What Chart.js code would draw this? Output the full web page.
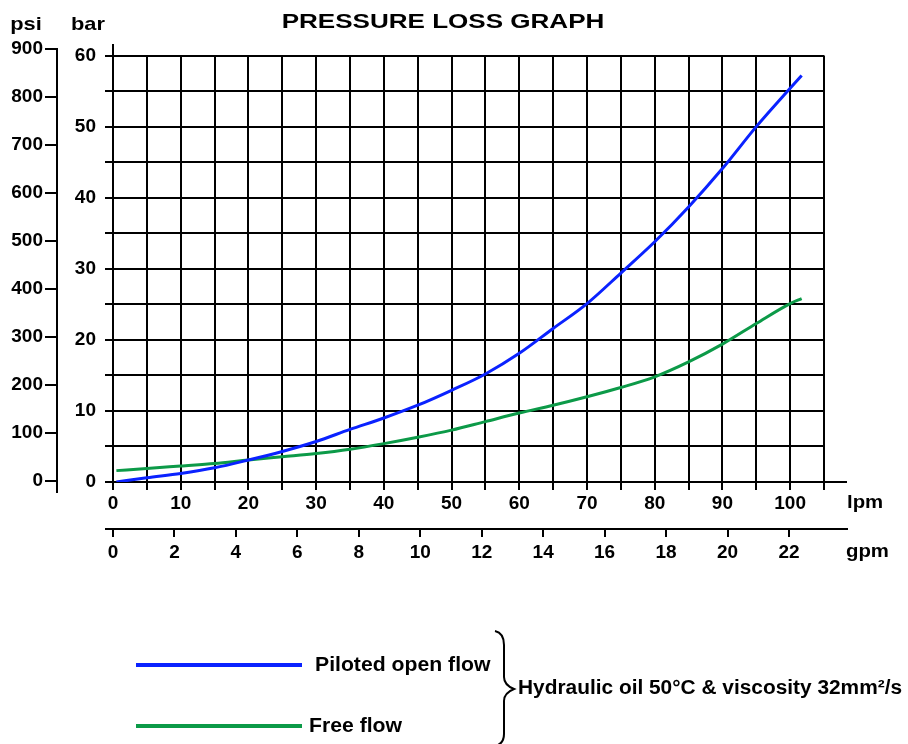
<!DOCTYPE html>
<html>
<head>
<meta charset="utf-8">
<title>Pressure Loss Graph</title>
<script src="https://cdn.jsdelivr.net/npm/chart.js"></script>
<style>
  html, body { margin: 0; padding: 0; background: #fff; }
  canvas { display: block; }
</style>
</head>
<body>
<canvas id="myChart" width="908" height="744"></canvas>
<script>
// flow (lpm) and pressure loss (bar)
const lpm = [0.5, 5, 10, 15, 20, 25, 30, 35, 40, 45, 50, 55, 60, 65, 70, 75, 80, 85, 90, 95, 100, 101.7];
const pilotedOpen = [0, 0.6, 1.2, 2.0, 3.1, 4.3, 5.7, 7.4, 9.0, 10.8, 12.9, 15.2, 18.1, 21.6, 25.1, 29.4, 33.8, 38.7, 44.1, 50.0, 55.4, 57.2];
const freeFlow = [1.6, 1.9, 2.25, 2.6, 3.1, 3.55, 4.0, 4.6, 5.4, 6.3, 7.3, 8.5, 9.7, 10.8, 12.0, 13.3, 14.8, 16.9, 19.4, 22.3, 25.1, 25.8];

// axis ticks
const lpmTicks = [0, 5, 10, 15, 20, 25, 30, 35, 40, 45, 50, 55, 60, 65, 70, 75, 80, 85, 90, 95, 100, 105];
const lpmLabels = [0, 10, 20, 30, 40, 50, 60, 70, 80, 90, 100];
const gpmTicks = [0, 2, 4, 6, 8, 10, 12, 14, 16, 18, 20, 22];
const barTicks = [0, 5, 10, 15, 20, 25, 30, 35, 40, 45, 50, 55, 60];
const barLabels = [0, 10, 20, 30, 40, 50, 60];
const psiTicks = [0, 100, 200, 300, 400, 500, 600, 700, 800, 900];

const seriesNames = ['Piloted open flow', 'Free flow'];
const note = 'Hydraulic oil 50\u00B0C & viscosity 32mm\u00B2/s';

const FONT = "'Liberation Sans', Arial, sans-serif";
Chart.defaults.font.family = FONT;
Chart.defaults.font.weight = 'bold';
Chart.defaults.font.size = 19;
Chart.defaults.color = '#000';

const fixTicks = values => scale => { scale.ticks = values.map(v => ({ value: v })); };

// the original lettering is a bit wider than Arial, so stretch it sideways
function wideText(ctx, text, x, y, size, sx, align) {
    ctx.save();
    ctx.font = 'bold ' + size + 'px ' + FONT;
    ctx.textAlign = align;
    ctx.textBaseline = 'middle';
    ctx.fillStyle = '#000';
    ctx.translate(x, y);
    ctx.scale(sx, 1);
    ctx.fillText(text, 0, 0);
    ctx.restore();
}

// grid columns, axis extensions, unit labels, title and legend
const decor = {
    id: 'decor',
    beforeDatasetsDraw(chart) {
        const { ctx, chartArea: a, scales: { x, bar } } = chart;
        const top = bar.getPixelForValue(barTicks[barTicks.length - 1]);
        ctx.save();
        ctx.strokeStyle = '#000';
        ctx.lineWidth = 2;
        ctx.beginPath();
        lpmTicks.forEach(v => {
            if (v === 0) return;
            const px = Math.round(x.getPixelForValue(v));
            ctx.moveTo(px, top);
            ctx.lineTo(px, a.bottom);
        });
        ctx.stroke();
        ctx.restore();
    },
    afterDraw(chart) {
        const { ctx, chartArea: a, scales: { x, gpm, psi } } = chart;
        ctx.save();
        ctx.strokeStyle = '#000';
        ctx.lineWidth = 2;
        ctx.beginPath();
        // psi axis line
        ctx.moveTo(psi.right - 1, psi.getPixelForValue(900));
        ctx.lineTo(psi.right - 1, a.bottom + 11);
        // lpm axis runs on past the grid
        ctx.moveTo(a.right, Math.round(a.bottom));
        ctx.lineTo(a.right + 23, Math.round(a.bottom));
        // gpm axis line
        ctx.moveTo(a.left - 8, Math.round(gpm.top));
        ctx.lineTo(a.right + 24, Math.round(gpm.top));
        ctx.stroke();

        wideText(ctx, 'psi', 26, 25, 18.5, 1.18, 'center');
        wideText(ctx, 'bar', 88, 25, 18.5, 1.18, 'center');
        wideText(ctx, 'lpm', a.right + 23, x.top + 21, 18.5, 1.1, 'left');
        wideText(ctx, 'gpm', a.right + 22, gpm.top + 23, 18.5, 1.1, 'left');
        wideText(ctx, 'PRESSURE LOSS GRAPH', 443, 22, 21, 1.24, 'center');

        // legend
        const rows = [{ y: 665, tx: 315 }, { y: 726, tx: 309 }];
        chart.data.datasets.forEach((ds, i) => {
            const r = rows[i];
            ctx.strokeStyle = ds.borderColor;
            ctx.lineWidth = 4;
            ctx.beginPath();
            ctx.moveTo(136, r.y);
            ctx.lineTo(302, r.y);
            ctx.stroke();
            wideText(ctx, ds.label, r.tx, r.y, 20, 1.06, 'left');
        });

        // brace
        ctx.strokeStyle = '#000';
        ctx.lineWidth = 2;
        ctx.beginPath();
        ctx.moveTo(495, 631);
        ctx.quadraticCurveTo(504, 633, 504, 645);
        ctx.lineTo(504, 677);
        ctx.quadraticCurveTo(504, 685, 514, 689);
        ctx.quadraticCurveTo(504, 693, 504, 701);
        ctx.lineTo(504, 734);
        ctx.quadraticCurveTo(504, 744, 495, 746);
        ctx.stroke();
        wideText(ctx, note, 518, 689, 19.5, 1.07, 'left');
        ctx.restore();
    }
};

const ctx = document.getElementById('myChart').getContext('2d');
const myChart = new Chart(ctx, {
    type: 'line',
    data: {
        datasets: [{
            label: seriesNames[0],
            data: lpm.map((v, i) => ({ x: v, y: pilotedOpen[i] })),
            borderColor: '#0a22ff',
            borderWidth: 3,
            pointRadius: 0,
            cubicInterpolationMode: 'monotone',
            yAxisID: 'bar'
        }, {
            label: seriesNames[1],
            data: lpm.map((v, i) => ({ x: v, y: freeFlow[i] })),
            borderColor: '#0c9a48',
            borderWidth: 3,
            pointRadius: 0,
            cubicInterpolationMode: 'monotone',
            yAxisID: 'bar'
        }]
    },
    options: {
        responsive: false,
        animation: false,
        layout: { padding: { top: 45, right: 84, bottom: 175, left: 0 } },
        plugins: {
            legend: { display: false },
            title: { display: false },
            tooltip: { enabled: false }
        },
        scales: {
            x: {
                type: 'linear', position: 'bottom', min: 0, max: 105, weight: 0,
                afterBuildTicks: fixTicks(lpmTicks),
                afterFit: s => { s.height = 47; },
                grid: { drawOnChartArea: false, color: '#000', lineWidth: 2, tickLength: 8 },
                border: { color: '#000', width: 2 },
                ticks: {
                    autoSkip: false, maxRotation: 0, padding: 2,
                    callback: v => lpmLabels.includes(v) ? String(v) : ''
                }
            },
            gpm: {
                type: 'linear', position: 'bottom', min: 0, max: 23.14, weight: 1,
                afterBuildTicks: fixTicks(gpmTicks),
                afterFit: s => { s.height = 40; },
                grid: { drawOnChartArea: false, color: '#000', lineWidth: 2, tickLength: 8 },
                border: { display: false },
                ticks: { autoSkip: false, maxRotation: 0, padding: 4 }
            },
            bar: {
                type: 'linear', position: 'left', min: 0, max: 61.48, weight: 0,
                afterBuildTicks: fixTicks(barTicks),
                afterFit: s => { s.width = 55; },
                grid: { color: '#000', lineWidth: 2, tickLength: 8 },
                border: { color: '#000', width: 2 },
                ticks: {
                    autoSkip: false, padding: 9,
                    callback: v => barLabels.includes(v) ? String(v) : ''
                }
            },
            psi: {
                type: 'linear', position: 'left', min: -2.08, max: 908.3, weight: 1,
                afterBuildTicks: fixTicks(psiTicks),
                afterFit: s => { s.width = 58; },
                grid: { drawOnChartArea: false, color: '#000', lineWidth: 2, tickLength: 13 },
                border: { display: false },
                ticks: { autoSkip: false, padding: 2 }
            }
        }
    },
    plugins: [decor]
});
</script>
</body>
</html>
